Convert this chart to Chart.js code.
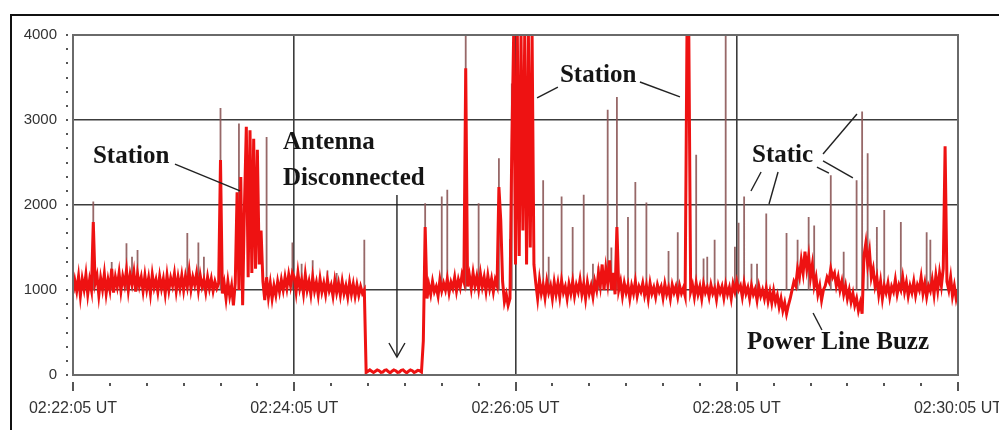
<!DOCTYPE html>
<html><head><meta charset="utf-8">
<script src="https://cdn.jsdelivr.net/npm/chart.js@4.4.1/dist/chart.umd.min.js"></script>
<style>html,body{margin:0;padding:0;background:#fff;overflow:hidden}canvas{display:block}</style>
</head><body>
<canvas id="c" width="999" height="430"></canvas>
<script>
// signal level, one reading per second from 02:22:05 UT (t = 0 .. 480 s)
const signal = [
  960,1110,990,1160,930,1130,1010,1180,950,1120,1000,1800,1080,1170,940,1140,1010,1190,960,1120,   // 0
  1000,1250,970,1150,1040,1200,990,1160,1060,1230,1000,1180,1070,1210,980,1190,1050,1150,990,1170, // 20
  1010,1140,960,1180,1030,1120,980,1160,1020,1130,960,1170,1000,1140,1050,1190,990,1150,1020,1170, // 40
  1000,1160,1040,1220,1010,1150,1060,1190,1000,1170,1040,1120,980,1150,1020,1130,990,1100,1020,1080, // 60
  2530,960,1080,900,1100,930,1050,820,1080,2150,1000,2330,820,2000,2920,1150,2880,1200,2780,1250,  // 80
  2650,1300,1700,1100,880,1150,920,1080,900,1050,940,1100,980,1120,1000,1150,1020,1180,1050,1200,  // 100
  1150,980,1200,1020,1120,960,1180,1000,1100,950,1150,990,1090,940,1130,980,1080,950,1120,990,     // 120
  1060,930,1110,970,1080,940,1100,960,1050,920,1090,950,1070,930,1060,940,1040,960,1000,30,        // 140
  45,60,45,30,45,60,50,30,35,55,60,40,25,45,60,50,30,35,55,60,                                     // 160
  40,25,45,60,50,30,40,55,50,35,400,1740,900,1060,950,1100,980,1040,930,1120,                      // 180
  990,1080,1000,1130,970,1090,1020,1150,990,1120,1030,1180,1100,3610,1040,1170,1020,1200,1050,1160, // 200
  1010,1190,1040,1150,990,1170,1020,1130,980,1120,1050,2210,1820,1100,860,950,820,900,2700,4000,   // 220
  1300,4000,1400,4000,1700,4000,1300,4000,1500,4000,1300,1080,900,1120,960,1060,910,1100,970,1050, // 240
  900,1090,950,1080,920,1110,970,1040,900,1070,960,1100,930,1060,980,1120,950,1070,900,1090,       // 260
  960,1050,920,1100,1000,1200,1050,1300,1000,1250,1080,1350,1000,1200,950,1740,1000,1100,930,1080, // 280
  970,1060,900,1050,960,1100,930,1040,980,1080,940,1050,900,1080,960,1030,920,1060,980,1040,       // 300
  910,1070,950,1030,900,1060,970,1040,920,1050,960,1020,930,4000,4000,980,1060,920,1080,950,       // 320
  1040,900,1070,970,1030,920,1060,960,1020,890,1050,970,1040,910,1060,950,1030,900,1070,980,       // 340
  1100,1000,1050,920,1080,960,1030,900,1050,950,1010,880,1040,930,1000,900,1020,870,980,850,       // 360
  990,860,940,800,900,760,850,720,820,900,1000,1100,1050,1250,1150,1350,1200,1450,1250,1400,       // 380
  1150,1300,1050,1150,950,1050,880,1000,1050,1150,1100,1250,1150,1200,1050,1150,1000,1100,950,1050, // 400
  900,1000,860,960,820,900,760,850,720,1400,1550,1300,1450,1150,1250,1050,1150,950,1100,900,       // 420
  1050,970,1080,920,1040,980,1120,950,1060,1000,1150,980,1090,930,1050,970,1100,940,1060,1000,     // 440
  1150,960,1080,920,1050,990,1120,950,1170,1000,1200,1050,1250,2690,1100,1000,1150,930,1050,900,1000 // 460
];
// static / station spikes: time (s) and peak level
const spikeTimes = [11,21,29,32,35,62,68,71,80,90,105,119,124,130,138,143,158,191,200,203,213,220,231,237,238,
  255,258,265,271,277,282,285,290,292,295,301,305,311,323,328,338,342,344,348,354,359,361,364,368,371,
  376,387,393,399,402,411,418,425,428,431,436,440,449,463,465];
const spikePeaks = [2040,1330,1550,1390,1470,1670,1560,1390,3140,2960,2800,1560,1310,1350,1230,1200,1590,2020,2100,2180,4000,2020,2550,1600,3430,
  2290,1390,2100,1740,2120,1310,1280,3120,1500,3270,1860,2270,2030,1460,1680,2590,1370,1390,1590,4000,1510,1790,2100,1310,1310,
  1900,1670,1590,1860,1760,2350,1450,2290,3100,2610,1740,1940,1800,1680,1590];
const spikeBase = 1000;
const yTickValues = [0,1000,2000,3000,4000];
const timeTicks = [0,120,240,360,480];
const timeLabels = ['02:22:05 UT','02:24:05 UT','02:26:05 UT','02:28:05 UT','02:30:05 UT'];

// annotation texts placed in data coordinates (t seconds, level)
const noteTexts = ['Station','Antenna','Disconnected','Station','Static','Power Line Buzz'];
const noteT = [10.8,113.9,113.9,264.1,368.3,365.6];
const noteV = [2565,2730,2306,3518,2576,376];
const leaderLines = [
  [55.3,2482,90.6,2165],
  [251.7,3259,263,3388],
  [307.5,3447,329.2,3271],
  [406.8,2600,425.2,3071],
  [406.8,2518,423,2318],
  [403.5,2447,410,2376],
  [373.2,2388,367.7,2165],
  [382.4,2388,377.5,2012],
  [401.4,729,406.2,529]
];
const arrowLine = [175.7,2118,175.7,212];

const bandData = signal.map((v,i)=>({x:i,y:v}));
const spikeData = [];
spikeTimes.forEach((t,i)=>{
  spikeData.push({x:t,y:spikeBase},{x:t,y:spikePeaks[i]},{x:t,y:null});
});

const deco = {
  id:'deco',
  beforeDraw(chart){
    const c = chart.ctx;
    c.save();
    c.fillStyle='#fff'; c.fillRect(0,0,chart.width,chart.height);
    c.strokeStyle='#111'; c.lineWidth=2;
    c.beginPath(); c.moveTo(11,430); c.lineTo(11,15); c.lineTo(999,15); c.stroke();
    c.restore();
  },
  afterDraw(chart){
    const c = chart.ctx, xs = chart.scales.x, ys = chart.scales.y, a = chart.chartArea;
    c.save();
    // plot frame
    c.strokeStyle='#6a6a6a'; c.lineWidth=2;
    c.strokeRect(a.left, a.top, a.right-a.left, a.bottom-a.top);
    // tick dots
    c.fillStyle='#555';
    for(let k=0;k<=24;k++){
      const y = ys.getPixelForValue(k*1000/6);
      c.fillRect(a.left-7, Math.round(y)-1, 2, 2);
    }
    for(let t=0;t<=480;t+=20){
      const x = Math.round(xs.getPixelForValue(t));
      if(t%120===0){ c.fillRect(x-1, a.bottom+7, 2, 9); }
      else { c.fillRect(x-1, a.bottom+8, 2, 3); }
    }
    // leader lines
    c.strokeStyle='#222'; c.lineWidth=1.4;
    leaderLines.forEach(l=>{
      c.beginPath();
      c.moveTo(xs.getPixelForValue(l[0]), ys.getPixelForValue(l[1]));
      c.lineTo(xs.getPixelForValue(l[2]), ys.getPixelForValue(l[3]));
      c.stroke();
    });
    // arrow
    const ax = xs.getPixelForValue(arrowLine[0]);
    const ay1 = ys.getPixelForValue(arrowLine[1]), ay2 = ys.getPixelForValue(arrowLine[3]);
    c.beginPath(); c.moveTo(ax, ay1); c.lineTo(ax, ay2); c.stroke();
    c.beginPath(); c.moveTo(ax-8, ay2-14); c.lineTo(ax, ay2); c.lineTo(ax+8, ay2-14); c.stroke();
    // texts
    c.fillStyle='#151515';
    c.font='bold 25px "Liberation Serif", "DejaVu Serif", serif';
    c.textBaseline='middle'; c.textAlign='left';
    noteTexts.forEach((s,i)=>{
      c.fillText(s, xs.getPixelForValue(noteT[i]), ys.getPixelForValue(noteV[i]));
    });
    c.restore();
  }
};

new Chart(document.getElementById('c'), {
  type:'line',
  data:{ datasets:[
    { label:'signal', data:bandData, borderColor:'#ee1212', borderWidth:3, pointRadius:0, tension:0, order:1 },
    { label:'spikes', data:spikeData, borderColor:'rgba(140,88,88,0.9)', borderWidth:1.8, pointRadius:0, tension:0, spanGaps:false, order:2 }
  ]},
  options:{
    responsive:false, animation:false, devicePixelRatio:1,
    layout:{ padding:{ left:0, right:41, top:35, bottom:0 } },
    plugins:{ legend:{display:false}, tooltip:{enabled:false} },
    scales:{
      x:{ type:'linear', min:0, max:480,
        afterBuildTicks: s => { s.ticks = timeTicks.map(v=>({value:v})); },
        afterFit: s => { s.height = 55; s.paddingLeft = 0; s.paddingRight = 0; },
        ticks:{ autoSkip:false, maxRotation:0, padding:24, color:'#333',
          font:{ family:'"Liberation Sans", Arial, sans-serif', size:16 },
          callback:(v)=>{ const i = timeTicks.indexOf(v); return i>=0 ? timeLabels[i] : ''; } },
        grid:{ drawTicks:false, lineWidth:1.6,
          color: ctx => (ctx.tick && ctx.tick.value>0 && ctx.tick.value<480) ? '#3c3c3c' : 'rgba(0,0,0,0)' },
        border:{ display:false }
      },
      y:{ type:'linear', min:0, max:4000,
        afterBuildTicks: s => { s.ticks = yTickValues.map(v=>({value:v})); },
        afterFit: s => { s.width = 73; s.paddingTop = 0; s.paddingBottom = 0; },
        ticks:{ padding:16, color:'#333',
          font:{ family:'"Liberation Sans", Arial, sans-serif', size:15 },
          callback:(v)=> String(v) },
        grid:{ drawTicks:false, lineWidth:1.6,
          color: ctx => (ctx.tick && ctx.tick.value>0 && ctx.tick.value<4000) ? '#3c3c3c' : 'rgba(0,0,0,0)' },
        border:{ display:false }
      }
    }
  },
  plugins:[deco]
});
</script>
</body></html>
